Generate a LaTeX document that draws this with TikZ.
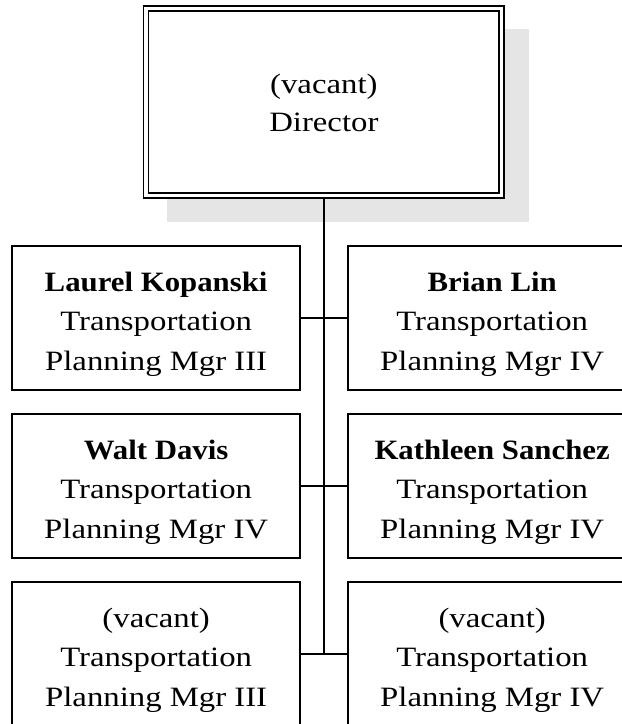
\documentclass[tikz,border=0pt]{standalone}
\usepackage{fontspec}
\setmainfont{Liberation Serif}[FakeStretch=1.17]
\newfontfamily\namefont{Liberation Serif}[FakeStretch=1.1]
\usetikzlibrary{backgrounds}
\pgfdeclarelayer{shadowlayer}
\pgfsetlayers{shadowlayer,background,main}
\definecolor{shadowgray}{RGB}{229,229,229}
\newcommand{\boxstrut}{\rule{0pt}{32pt}}
\newcommand{\topstrut}{\rule{0pt}{22.5pt}}
\newcommand{\personname}[1]{\boxstrut{\namefont\bfseries #1}}
\begin{document}
\begin{tikzpicture}[x=1pt,y=-1pt,
  box/.style={draw=black, line width=1.7pt, fill=white,
    minimum width=287.7pt, minimum height=144pt, align=center,
    font=\fontsize{28}{39.5}\selectfont, inner sep=0pt, outer sep=0pt},
  topbox/.style={draw=black, line width=1.7pt, double=white,
    double distance=3.3pt, fill=white,
    minimum width=355.9pt, minimum height=187pt, align=center,
    font=\fontsize{28}{38}\selectfont, inner sep=0pt, outer sep=0pt},
  link/.style={draw=black, line width=1.7pt}]
\useasboundingbox (0,0) rectangle (622,724);

\node[topbox] (dir) at (323.85,101.7) {\topstrut(vacant)\\Director};

\node[box] (l1) at (156.15,318) {\personname{Laurel Kopanski}\\Transportation\\Planning Mgr III};
\node[box] (r1) at (492.15,318) {\personname{Brian Lin}\\Transportation\\Planning Mgr IV};
\node[box] (l2) at (156.15,485.7) {\personname{Walt Davis}\\Transportation\\Planning Mgr IV};
\node[box] (r2) at (492.15,485.7) {\personname{Kathleen Sanchez}\\Transportation\\Planning Mgr IV};
\node[box] (l3) at (156.15,653.7) {\boxstrut(vacant)\\Transportation\\Planning Mgr III};
\node[box] (r3) at (492.15,653.7) {\boxstrut(vacant)\\Transportation\\Planning Mgr IV};

\begin{pgfonlayer}{shadowlayer}
  \fill[shadowgray] (167,29) rectangle (529,222.3);
\end{pgfonlayer}

\begin{pgfonlayer}{background}
  \coordinate (j3) at (dir |- l3.east);
  \draw[link] (dir.center) -- (j3);
  \draw[link] (l1.east) -- (r1.west);
  \draw[link] (l2.east) -- (r2.west);
  \draw[link] (l3.east) -- (r3.west);
\end{pgfonlayer}
\end{tikzpicture}
\end{document}
